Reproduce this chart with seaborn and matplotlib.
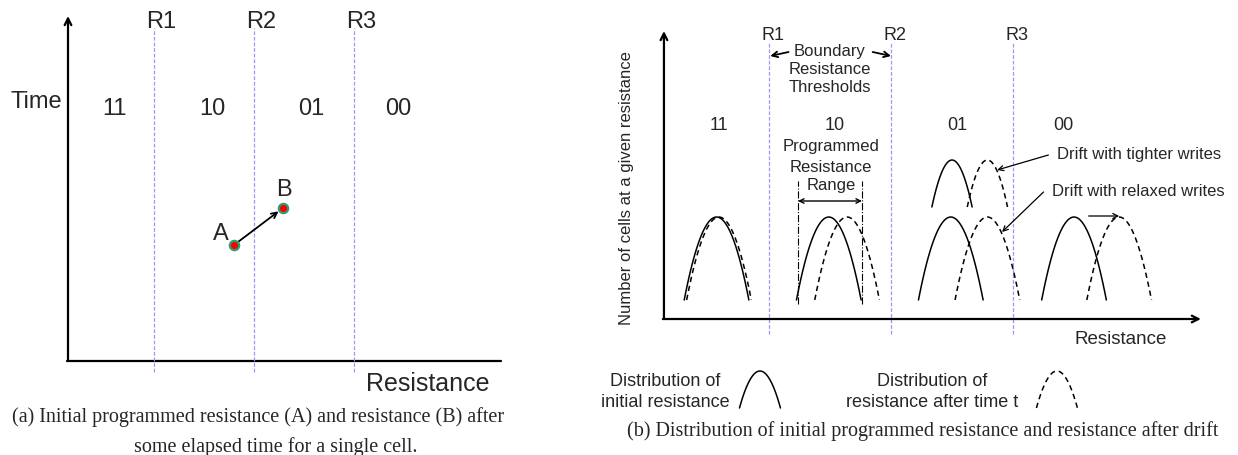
import numpy as np
import pandas as pd
import seaborn as sns
import matplotlib.pyplot as plt

# resistance thresholds (R1 = 1, R2 = 2, R3 = 3) and the 2-bit states
thresholds = [1, 2, 3]
threshold_labels = ['R1', 'R2', 'R3']
states = ['11', '10', '01', '00']

# panel (a): a single cell drifting from A to B
cell_labels = ['A', 'B']
cell_resistance = [1.80, 2.29]
cell_time = [1.16, 1.53]

# panel (b): peaks of the distributions, initial and after drift
peak_initial = [0.57, 1.49, 2.49, 3.50]
peak_drifted = [0.59, 1.64, 2.79, 3.87]
peak_height = 1.02
base_height = 0.19
half_width = 0.265

# tighter writes for state 01
tight_initial = 2.50
tight_drifted = 2.79
tight_peak = 1.59
tight_base = 1.12
tight_half_width = 0.165

BLUE = '#9a9af0'
SANS = ['Liberation Sans', 'DejaVu Sans']
SERIF = ['Liberation Serif', 'DejaVu Serif']


def bump(center, peak, base, hw, n=41):
    x = np.linspace(center - hw, center + hw, n)
    y = peak - (peak - base) * ((x - center) / hw) ** 2
    return x, y


sns.set_style('white')
plt.rcParams['font.family'] = SANS

fig = plt.figure(figsize=(12.38, 4.56), dpi=100)

# ---------------- panel (a) ----------------
ax1 = fig.add_axes([0, 0, 560 / 1238, 1])
ax1.set_xlim(-0.54, 5.06)
ax1.set_ylim(-0.94, 3.62)
ax1.axis('off')

ax1.annotate('', xy=(0.14, 3.45), xytext=(0.14, 0),
             arrowprops=dict(arrowstyle='->', lw=1.6, color='black',
                             shrinkA=0, shrinkB=0, mutation_scale=12))
ax1.plot([0.13, 4.47], [0, 0], color='black', lw=1.6)

for r, lab in zip(thresholds, threshold_labels):
    ax1.plot([r, r], [-0.11, 3.33], color=BLUE, lw=0.9, ls=(0, (3, 1.5)))
    ax1.text(r + 0.07, 3.40, lab, fontsize=17, ha='center', va='center')

for i, s in enumerate(states):
    xs = [0.61, 1.58, 2.57, 3.44][i]
    ax1.text(xs, 2.53, s, fontsize=17, ha='center', va='center')

ax1.text(-0.18, 2.60, 'Time', fontsize=17, ha='center', va='center')
ax1.text(3.74, -0.22, 'Resistance', fontsize=18, ha='center', va='center')

ax1.annotate('', xy=(cell_resistance[1], cell_time[1]),
             xytext=(cell_resistance[0], cell_time[0]),
             arrowprops=dict(arrowstyle='->', lw=1.3, color='black',
                             shrinkA=0, shrinkB=4, mutation_scale=10))
sns.scatterplot(x=cell_resistance, y=cell_time, ax=ax1, color='red',
                edgecolor='#2e9e72', s=45, linewidth=1.6, zorder=5, legend=False)
ax1.text(cell_resistance[0] - 0.13, cell_time[0] + 0.12, cell_labels[0],
         fontsize=17, ha='center', va='center')
ax1.text(cell_resistance[1] + 0.01, cell_time[1] + 0.19, cell_labels[1],
         fontsize=17, ha='center', va='center')

fig.text(258 / 1238, 1 - 417 / 456,
         '(a) Initial programmed resistance (A) and resistance (B) after',
         fontsize=14.5, family=SERIF, ha='center', va='center')
fig.text(276 / 1238, 1 - 447 / 456, 'some elapsed time for a single cell.',
         fontsize=14.5, family=SERIF, ha='center', va='center')

# ---------------- panel (b) ----------------
ax2 = fig.add_axes([560 / 1238, 0, 678 / 1238, 1])
ax2.set_xlim(-0.713, 4.844)
ax2.set_ylim(-1.36, 3.20)
ax2.axis('off')

ax2.annotate('', xy=(0.139, 2.88), xytext=(0.139, 0),
             arrowprops=dict(arrowstyle='->', lw=1.6, color='black',
                             shrinkA=0, shrinkB=0, mutation_scale=12))
ax2.annotate('', xy=(4.54, 0), xytext=(0.13, 0),
             arrowprops=dict(arrowstyle='->', lw=1.6, color='black',
                             shrinkA=0, shrinkB=0, mutation_scale=12))

for r, lab in zip(thresholds, threshold_labels):
    ax2.plot([r, r], [-0.15, 2.76], color=BLUE, lw=0.9, ls=(0, (3, 1.5)))
    ax2.text(r + 0.035, 2.85, lab, fontsize=13, ha='center', va='center')

for i, s in enumerate(states):
    xs = [0.59, 1.54, 2.54, 3.41][i]
    ax2.text(xs, 1.95, s, fontsize=13, ha='center', va='center')

# distribution curves
rows = []
for i, (c0, c1) in enumerate(zip(peak_initial, peak_drifted)):
    for c, kind in [(c0, 'initial'), (c1, 'drifted')]:
        x, y = bump(c, peak_height, base_height, half_width)
        rows.append(pd.DataFrame({'x': x, 'y': y, 'curve': f'{i}{kind}', 'kind': kind}))
for c, kind in [(tight_initial, 'initial'), (tight_drifted, 'drifted')]:
    x, y = bump(c, tight_peak, tight_base, tight_half_width)
    rows.append(pd.DataFrame({'x': x, 'y': y, 'curve': f't{kind}', 'kind': kind}))
# legend samples
for c, kind in [(0.926, 'initial'), (3.36, 'drifted')]:
    x, y = bump(c, -0.52, -0.89, 0.168)
    rows.append(pd.DataFrame({'x': x, 'y': y, 'curve': f'l{kind}', 'kind': kind}))
curves = pd.concat(rows, ignore_index=True)

sns.lineplot(data=curves, x='x', y='y', units='curve', estimator=None,
             style='kind', dashes={'initial': '', 'drifted': (3.5, 2.5)},
             color='black', lw=1.1, sort=False, legend=False, ax=ax2)

# programmed resistance range
for xr in [1.238, 1.762]:
    ax2.plot([xr, xr], [0.15, 1.38], color='black', lw=0.8, ls='-.')
ax2.annotate('', xy=(1.762, 1.18), xytext=(1.238, 1.18),
             arrowprops=dict(arrowstyle='<->', lw=1.0, color='black',
                             shrinkA=0, shrinkB=0, mutation_scale=8))
for t, yy in zip(['Programmed', 'Resistance', 'Range'], [1.73, 1.53, 1.34]):
    ax2.text(1.51, yy, t, fontsize=12, ha='center', va='center')

# boundary thresholds
for t, yy in zip(['Boundary', 'Resistance', 'Thresholds'], [2.69, 2.51, 2.33]):
    ax2.text(1.50, yy, t, fontsize=12, ha='center', va='center')
ax2.annotate('', xy=(1.01, 2.63), xytext=(1.16, 2.67),
             arrowprops=dict(arrowstyle='->', lw=1.3, color='black',
                             shrinkA=0, shrinkB=0, mutation_scale=10))
ax2.annotate('', xy=(2.0, 2.63), xytext=(1.85, 2.67),
             arrowprops=dict(arrowstyle='->', lw=1.3, color='black',
                             shrinkA=0, shrinkB=0, mutation_scale=10))

# drift annotations
ax2.text(3.36, 1.66, 'Drift with tighter writes', fontsize=12, ha='left', va='center')
ax2.annotate('', xy=(2.87, 1.49), xytext=(3.29, 1.64),
             arrowprops=dict(arrowstyle='->', lw=0.9, color='black',
                             shrinkA=0, shrinkB=0, mutation_scale=9))
ax2.text(3.32, 1.29, 'Drift with relaxed writes', fontsize=12, ha='left', va='center')
ax2.annotate('', xy=(2.91, 0.87), xytext=(3.25, 1.27),
             arrowprops=dict(arrowstyle='->', lw=0.9, color='black',
                             shrinkA=0, shrinkB=0, mutation_scale=9))
ax2.annotate('', xy=(3.87, 1.03), xytext=(3.62, 1.03),
             arrowprops=dict(arrowstyle='->', lw=0.9, color='black',
                             shrinkA=0, shrinkB=0, mutation_scale=9))

ax2.text(3.885, -0.20, 'Resistance', fontsize=13.5, ha='center', va='center')
ax2.text(-0.164, 1.32, 'Number of cells at a given resistance', fontsize=12,
         rotation=90, ha='center', va='center')

ax2.text(0.15, -0.72, 'Distribution of\ninitial resistance', fontsize=13,
         ha='center', va='center', linespacing=1.25)
ax2.text(2.34, -0.72, 'Distribution of\nresistance after time t', fontsize=13,
         ha='center', va='center', linespacing=1.25)

fig.text(923 / 1238, 1 - 431 / 456,
         '(b) Distribution of initial programmed resistance and resistance after drift',
         fontsize=14.5, family=SERIF, ha='center', va='center')

fig.savefig('out.png', dpi=100, facecolor='white')
